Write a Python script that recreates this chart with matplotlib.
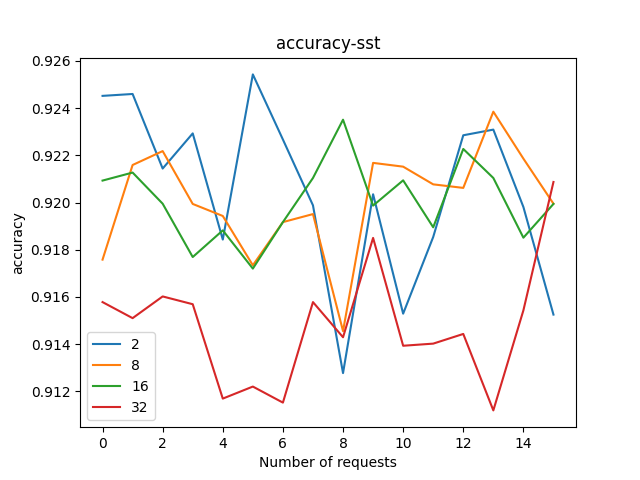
# accuracy vs number of requests on sst

import numpy as np
import matplotlib
matplotlib.use("Agg")
import matplotlib.pyplot as plt

requests = list(range(16))

acc_2 = [0.92452, 0.92460, 0.92144, 0.92293, 0.91843, 0.92543, 0.92267, 0.91988,
         0.91277, 0.92035, 0.91529, 0.91854, 0.92285, 0.92309, 0.91981, 0.91525]
acc_8 = [0.91758, 0.92159, 0.92218, 0.91994, 0.91943, 0.91734, 0.91917, 0.91951,
         0.91455, 0.92168, 0.92152, 0.92077, 0.92062, 0.92385, 0.92186, 0.91995]
acc_16 = [0.92093, 0.92127, 0.91995, 0.91769, 0.91882, 0.91720, 0.91917, 0.92104,
          0.92351, 0.91987, 0.92094, 0.91895, 0.92227, 0.92104, 0.91851, 0.91994]
acc_32 = [0.91578, 0.91510, 0.91602, 0.91569, 0.91169, 0.91220, 0.91152, 0.91578,
          0.91429, 0.91850, 0.91393, 0.91402, 0.91443, 0.91119, 0.91543, 0.92087]

labels = ["2", "8", "16", "32"]


def draw(x, series, names, title, xlabel, ylabel, filename):
    fig = plt.figure(figsize=(6.4, 4.8), dpi=100)
    for y, name in zip(series, names):
        plt.plot(x, y, label=name)
    plt.title(title)
    plt.xlabel(xlabel)
    plt.ylabel(ylabel)
    plt.legend()
    plt.savefig(filename)
    plt.close(fig)


if __name__ == "__main__":
    draw(requests, [acc_2, acc_8, acc_16, acc_32], labels,
         "accuracy-sst", "Number of requests", "accuracy", "out.png")
